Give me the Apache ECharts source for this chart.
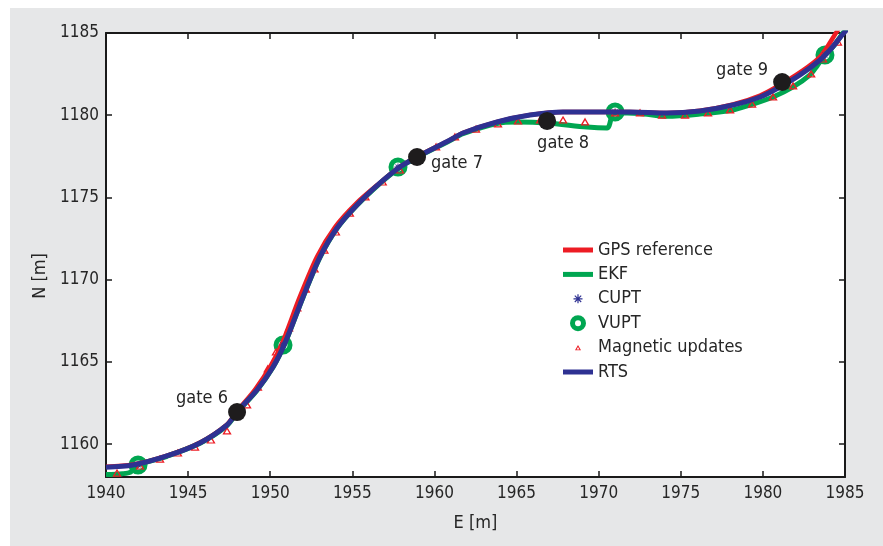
<!DOCTYPE html>
<html>
<head>
<meta charset="utf-8">
<script src="https://cdn.jsdelivr.net/npm/echarts@6/dist/echarts.min.js"></script>
<style>
  html, body { margin: 0; padding: 0; background: #fff; }
  #chart { width: 883px; height: 546px; }
</style>
</head>
<body>
<div id="chart"></div>
<script>
// ticks
const xTicks = [1940, 1945, 1950, 1955, 1960, 1965, 1970, 1975, 1980, 1985];
const yTicks = [1160, 1165, 1170, 1175, 1180, 1185];

// RTS smoother track [E, N]
const rtsTrack = [
  [1940.0, 1158.6], [1941.64, 1158.73], [1943.71, 1159.28], [1945.72, 1160.07],
  [1947.37, 1161.16], [1947.98, 1161.95], [1949.19, 1163.29], [1950.17, 1164.69],
  [1950.9, 1166.15], [1952.0, 1168.95], [1953.03, 1171.38], [1954.07, 1173.14],
  [1955.28, 1174.54], [1956.69, 1175.88], [1957.9, 1176.85], [1958.94, 1177.46],
  [1960.95, 1178.49], [1961.74, 1178.92], [1963.81, 1179.59], [1965.82, 1180.01],
  [1967.83, 1180.2], [1969.9, 1180.2], [1971.91, 1180.2], [1974.16, 1180.13],
  [1976.17, 1180.26], [1978.18, 1180.62], [1979.83, 1181.11], [1981.04, 1181.72],
  [1982.26, 1182.45], [1983.48, 1183.36], [1984.09, 1183.97], [1984.88, 1184.94],
  [1985.2, 1185.3]
];

// GPS reference track
const gpsTrack = [
  [1940.0, 1158.62], [1941.64, 1158.76], [1943.71, 1159.3], [1945.72, 1160.1],
  [1947.37, 1161.2], [1947.98, 1162.0], [1949.1, 1163.35], [1950.05, 1164.8],
  [1950.75, 1166.2], [1951.8, 1168.95], [1952.85, 1171.4], [1953.95, 1173.2],
  [1955.2, 1174.6], [1956.69, 1175.9], [1957.9, 1176.87], [1958.94, 1177.48],
  [1960.95, 1178.5], [1961.74, 1178.93], [1963.81, 1179.6], [1965.82, 1180.02],
  [1967.83, 1180.2], [1969.9, 1180.2], [1971.91, 1180.2], [1974.16, 1180.14],
  [1976.17, 1180.28], [1978.18, 1180.66], [1979.83, 1181.2], [1981.04, 1181.85],
  [1982.26, 1182.6], [1983.48, 1183.55], [1984.45, 1185.0], [1984.7, 1185.4]
];

// EKF track
const ekfTrack = [
  [1940.0, 1158.15], [1941.0, 1158.2], [1941.5, 1158.3], [1941.95, 1158.73],
  [1943.71, 1159.26], [1945.72, 1160.05], [1947.37, 1161.13], [1947.98, 1161.92],
  [1949.19, 1163.27], [1950.17, 1164.67], [1950.9, 1166.13], [1952.0, 1168.93],
  [1953.03, 1171.35], [1954.07, 1173.12], [1955.28, 1174.52], [1956.69, 1175.86],
  [1957.9, 1176.83], [1958.94, 1177.44], [1960.95, 1178.46], [1961.74, 1178.88],
  [1963.81, 1179.5], [1965.03, 1179.59], [1966.86, 1179.53], [1969.29, 1179.28],
  [1970.51, 1179.22], [1970.95, 1180.15], [1972.5, 1180.1], [1974.16, 1179.93],
  [1976.17, 1180.07], [1978.18, 1180.32], [1979.22, 1180.62], [1980.62, 1181.11],
  [1981.84, 1181.72], [1982.87, 1182.45], [1983.3, 1183.0], [1983.78, 1183.66],
  [1984.3, 1184.2], [1984.88, 1185.0], [1985.2, 1185.4]
];

// CUPT and VUPT update positions
const cuptPoints = [
  [1941.95, 1158.73], [1950.78, 1166.03], [1957.78, 1176.85], [1971.0, 1180.2], [1983.78, 1183.66]
];
const vuptPoints = [
  [1941.95, 1158.73], [1950.78, 1166.03], [1957.78, 1176.85], [1971.0, 1180.2], [1983.78, 1183.66]
];

// magnetic updates
const magPoints = [
  [1940.67, 1158.24], [1942.07, 1158.67], [1943.29, 1159.09], [1944.38, 1159.46],
  [1945.42, 1159.82], [1946.39, 1160.25], [1947.37, 1160.8], [1948.59, 1162.38],
  [1949.25, 1163.47], [1949.85, 1164.57], [1950.35, 1165.6], [1951.15, 1167.06],
  [1951.65, 1168.28], [1952.17, 1169.43], [1952.7, 1170.65], [1953.3, 1171.8],
  [1954.0, 1172.9], [1954.85, 1174.05], [1955.8, 1175.03], [1956.85, 1175.94],
  [1957.9, 1176.67], [1959.0, 1177.4], [1960.1, 1178.07], [1961.25, 1178.68],
  [1962.53, 1179.16], [1963.87, 1179.47], [1965.09, 1179.65], [1966.43, 1179.71],
  [1967.83, 1179.71], [1969.17, 1179.59], [1971.0, 1180.14], [1972.52, 1180.14],
  [1973.86, 1180.01], [1975.26, 1180.01], [1976.66, 1180.14], [1978.0, 1180.32],
  [1979.34, 1180.68], [1980.62, 1181.11], [1981.84, 1181.78], [1982.94, 1182.51],
  [1983.66, 1183.42], [1984.57, 1184.45]
];

// gates
const gateNames = ['gate 6', 'gate 7', 'gate 8', 'gate 9'];
const gateE = [1947.98, 1958.94, 1966.86, 1981.17];
const gateN = [1161.95, 1177.46, 1179.65, 1182.02];

const gateLabelOffsets = {
  'gate 6': [-35, -14],
  'gate 7': [40, 6],
  'gate 8': [16, 22],
  'gate 9': [-40, -12]
};

const RED = '#ed1c24';
const GREEN = '#00a651';
const BLUE = '#2e3192';
const INK = '#262626';
const FONT = "'DejaVu Sans Condensed', 'Liberation Sans', sans-serif";

// legend icons in a 30x17 box (corner points fix the box)
const BOX = 'M0,0L0,0M30,17L30,17';
const iconLine = 'path://' + BOX + 'M0,6H30V11H0Z';
const iconStar = 'path://' + BOX +
  'M10.5,7.9H19.5V9.1H10.5Z M14.4,4H15.6V13H14.4Z' +
  'M11.4,5.7L12.2,4.9L18.6,11.3L17.8,12.1Z M17.8,4.9L18.6,5.7L12.2,12.1L11.4,11.3Z';
const iconRing = 'path://' + BOX +
  'M7,8.5A8,8 0 1,0 23,8.5A8,8 0 1,0 7,8.5Z M12,8.5A3,3 0 1,1 18,8.5A3,3 0 1,1 12,8.5Z';
const iconTri = 'path://' + BOX +
  'M12,11.2L15,5.8L18,11.2Z M13.6,10.4L16.4,10.4L15,7.9Z';
const starSymbol = 'path://M0,4.3H10V5.7H0Z M4.3,0H5.7V10H4.3Z M1,1.9L1.9,1L9,8.1L8.1,9Z M8.1,1L9,1.9L1.9,9L1,8.1Z';

const chart = echarts.init(document.getElementById('chart'));

const axisCommon = {
  type: 'value',
  axisLine: { show: true, onZero: false, lineStyle: { color: '#1a1a1a', width: 2 } },
  axisTick: { show: true, inside: true, length: 6, lineStyle: { color: '#1a1a1a', width: 1.5 } },
  splitLine: { show: false }
};

const plain = v => String(v);

const option = {
  backgroundColor: '#e6e7e8',
  animation: false,
  textStyle: { fontFamily: FONT },
  graphic: [
    { type: 'rect', left: 0, top: 0, shape: { width: 10, height: 546 }, style: { fill: '#fff' }, silent: true },
    { type: 'rect', left: 0, top: 0, shape: { width: 883, height: 8 }, style: { fill: '#fff' }, silent: true },
    {
      type: 'text', x: 40, y: 276, rotation: Math.PI / 2,
      style: { text: 'N [m]', fill: INK, font: '18px ' + FONT, align: 'center', verticalAlign: 'middle' }
    }
  ],
  grid: {
    left: 106, top: 33, width: 739, height: 444,
    containLabel: false,
    show: true, backgroundColor: '#fff', borderWidth: 0
  },
  xAxis: [
    Object.assign({}, axisCommon, {
      min: 1940, max: 1985, interval: 5, position: 'bottom',
      name: 'E [m]', nameLocation: 'middle', nameGap: 37,
      nameTextStyle: { color: INK, fontSize: 18, fontFamily: FONT },
      axisTick: Object.assign({}, axisCommon.axisTick, { customValues: xTicks }),
      axisLabel: { customValues: xTicks, formatter: plain, color: INK, fontSize: 17, fontFamily: FONT, margin: 8 }
    }),
    Object.assign({}, axisCommon, {
      min: 1940, max: 1985, interval: 5, position: 'top',
      axisTick: Object.assign({}, axisCommon.axisTick, { customValues: xTicks }),
      axisLabel: { show: false }
    })
  ],
  yAxis: [
    Object.assign({}, axisCommon, {
      min: 1158, max: 1185, position: 'left',
      axisTick: Object.assign({}, axisCommon.axisTick, { customValues: yTicks }),
      axisLabel: { customValues: yTicks, formatter: plain, color: INK, fontSize: 17, fontFamily: FONT, margin: 7 }
    }),
    Object.assign({}, axisCommon, {
      min: 1158, max: 1185, position: 'right',
      axisTick: Object.assign({}, axisCommon.axisTick, { customValues: yTicks }),
      axisLabel: { show: false }
    })
  ],
  legend: {
    orient: 'vertical',
    left: 563, top: 241, padding: 0,
    itemWidth: 30, itemHeight: 17, itemGap: 6.4,
    selectedMode: false,
    itemStyle: { borderWidth: 0 },
    textStyle: { color: INK, fontSize: 18, fontFamily: FONT },
    data: [
      { name: 'GPS reference', icon: iconLine, itemStyle: { color: RED, borderWidth: 0 } },
      { name: 'EKF', icon: iconLine, itemStyle: { color: GREEN, borderWidth: 0 } },
      { name: 'CUPT', icon: iconStar, itemStyle: { color: BLUE, borderWidth: 0 } },
      { name: 'VUPT', icon: iconRing, itemStyle: { color: GREEN, borderWidth: 0 } },
      { name: 'Magnetic updates', icon: iconTri, itemStyle: { color: RED, borderWidth: 0 } },
      { name: 'RTS', icon: iconLine, itemStyle: { color: BLUE, borderWidth: 0 } }
    ]
  },
  series: [
    {
      name: 'VUPT', type: 'scatter', z: 1,
      symbol: 'circle', symbolSize: 14,
      itemStyle: { color: 'rgba(0,0,0,0)', borderColor: GREEN, borderWidth: 5, opacity: 1 },
      data: vuptPoints
    },
    {
      name: 'GPS reference', type: 'line', z: 2, showSymbol: false, symbol: 'none',
      smooth: 0.3, color: RED, lineStyle: { color: RED, width: 4.5 },
      data: gpsTrack
    },
    {
      name: 'EKF', type: 'line', z: 3, showSymbol: false, symbol: 'none',
      smooth: 0.3, color: GREEN, lineStyle: { color: GREEN, width: 5 },
      data: ekfTrack
    },
    {
      name: 'CUPT', type: 'scatter', z: 4,
      symbol: starSymbol, symbolSize: 7,
      itemStyle: { color: BLUE, opacity: 1 },
      data: cuptPoints
    },
    {
      name: 'Magnetic updates', type: 'scatter', z: 4,
      symbol: 'triangle', symbolSize: [7, 6],
      itemStyle: { color: 'rgba(0,0,0,0)', borderColor: RED, borderWidth: 1.3, opacity: 1 },
      data: magPoints
    },
    {
      name: 'RTS', type: 'line', z: 5, showSymbol: false, symbol: 'none',
      smooth: 0.3, color: BLUE, lineStyle: { color: BLUE, width: 5 },
      data: rtsTrack
    },
    {
      name: 'gates', type: 'scatter', z: 6,
      symbol: 'circle', symbolSize: 18,
      itemStyle: { color: '#1e1c1d', opacity: 1 },
      data: gateNames.map((g, i) => ({
        value: [gateE[i], gateN[i]],
        label: {
          show: true, formatter: g, position: 'inside',
          offset: gateLabelOffsets[g], align: 'center', verticalAlign: 'middle',
          color: INK, fontSize: 18, fontFamily: FONT
        }
      }))
    }
  ]
};

chart.setOption(option);
</script>
</body>
</html>
